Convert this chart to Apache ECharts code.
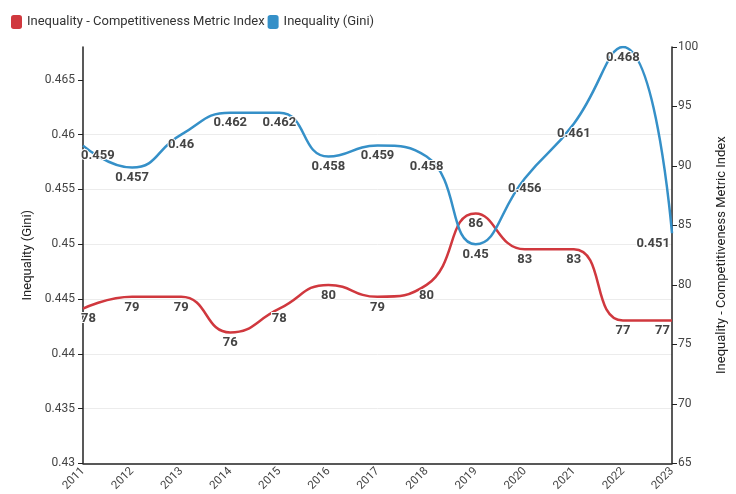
<!DOCTYPE html>
<html>
<head>
<meta charset="utf-8">
<script src="https://cdn.jsdelivr.net/npm/echarts@6/dist/echarts.min.js"></script>
<style>
  html, body { margin: 0; padding: 0; background: #fff; }
  #chart { width: 736px; height: 494px; }
</style>
</head>
<body>
<div id="chart"></div>
<script>
// Years on the category axis
const years = ['2011', '2012', '2013', '2014', '2015', '2016', '2017', '2018', '2019', '2020', '2021', '2022', '2023'];
// Gini coefficient (left axis)
const giniValues = [0.459, 0.457, 0.46, 0.462, 0.462, 0.458, 0.459, 0.458, 0.45, 0.456, 0.461, 0.468, 0.451];
// Competitiveness metric index (right axis)
const metricValues = [78, 79, 79, 76, 78, 80, 79, 80, 86, 83, 83, 77, 77];
// Tick values
const giniTicks = [0.43, 0.435, 0.44, 0.445, 0.45, 0.455, 0.46, 0.465];
const metricTicks = [65, 70, 75, 80, 85, 90, 95, 100];

const FONT = 'Roboto, "Noto Sans", sans-serif';
const RED = '#d0383e';
const BLUE = '#3590c8';

// Keep edge labels inside the plot
function edgeLabels(values) {
  return values.map((v, i) => {
    const item = { value: v };
    if (i === 0) item.label = { align: 'left', offset: [-2, 0] };
    if (i === values.length - 1) item.label = { align: 'right', offset: [-2, 0] };
    return item;
  });
}

const dataLabel = {
  show: true,
  position: 'bottom',
  distance: 4,
  color: '#444',
  fontFamily: FONT,
  fontSize: 13,
  fontWeight: 'bold',
  textBorderColor: '#fff',
  textBorderWidth: 2
};

const chart = echarts.init(document.getElementById('chart'), null, { renderer: 'canvas' });
chart.setOption({
  animation: false,
  backgroundColor: '#fff',
  textStyle: { fontFamily: FONT },
  legend: {
    left: 6,
    top: 10,
    itemWidth: 11,
    itemHeight: 14,
    itemGap: 3,
    icon: 'roundRect',
    textStyle: { fontFamily: FONT, fontSize: 13, color: '#333' },
    data: ['Inequality - Competitiveness Metric Index', 'Inequality (Gini)']
  },
  grid: { left: 83, right: 56, top: 47, bottom: 30, containLabel: false },
  xAxis: {
    type: 'category',
    data: years,
    boundaryGap: false,
    axisLine: { lineStyle: { color: '#222', width: 1.5 } },
    axisTick: { show: false },
    axisLabel: { rotate: 45, fontSize: 11.5, color: '#444', fontFamily: FONT, margin: 6, interval: 0 },
    splitLine: { show: false }
  },
  yAxis: [
    {
      type: 'value',
      name: 'Inequality (Gini)',
      nameLocation: 'middle',
      nameGap: 47,
      nameTextStyle: { fontSize: 13, color: '#222', fontFamily: FONT },
      min: 0.43,
      max: 0.468,
      interval: 0.005,
      axisLine: { show: true, lineStyle: { color: '#222', width: 1.5 } },
      axisTick: { show: true, length: 5, customValues: giniTicks, lineStyle: { color: '#222' } },
      axisLabel: { fontSize: 12, color: '#444', fontFamily: FONT, margin: 8, customValues: giniTicks, formatter: v => String(+v.toFixed(3)) },
      splitLine: { show: true, showMaxLine: false, showMinLine: false, lineStyle: { color: '#ececec', width: 1 } }
    },
    {
      type: 'value',
      name: 'Inequality - Competitiveness Metric Index',
      nameLocation: 'middle',
      nameGap: 43,
      nameTextStyle: { fontSize: 13, color: '#222', fontFamily: FONT },
      min: 65,
      max: 100,
      interval: 5,
      position: 'right',
      axisLine: { show: true, lineStyle: { color: '#222', width: 1.5 } },
      axisTick: { show: true, length: 5, customValues: metricTicks, lineStyle: { color: '#222' } },
      axisLabel: { fontSize: 12, color: '#444', fontFamily: FONT, margin: 6, customValues: metricTicks },
      splitLine: { show: false }
    }
  ],
  series: [
    {
      name: 'Inequality - Competitiveness Metric Index',
      type: 'line',
      yAxisIndex: 1,
      smooth: true,
      symbol: 'circle',
      symbolSize: 0,
      showSymbol: true,
      color: RED,
      lineStyle: { color: RED, width: 2.5 },
      label: dataLabel,
      data: edgeLabels(metricValues)
    },
    {
      name: 'Inequality (Gini)',
      type: 'line',
      yAxisIndex: 0,
      smooth: true,
      symbol: 'circle',
      symbolSize: 0,
      showSymbol: true,
      color: BLUE,
      lineStyle: { color: BLUE, width: 2.5 },
      label: dataLabel,
      data: edgeLabels(giniValues)
    }
  ]
});
</script>
</body>
</html>
